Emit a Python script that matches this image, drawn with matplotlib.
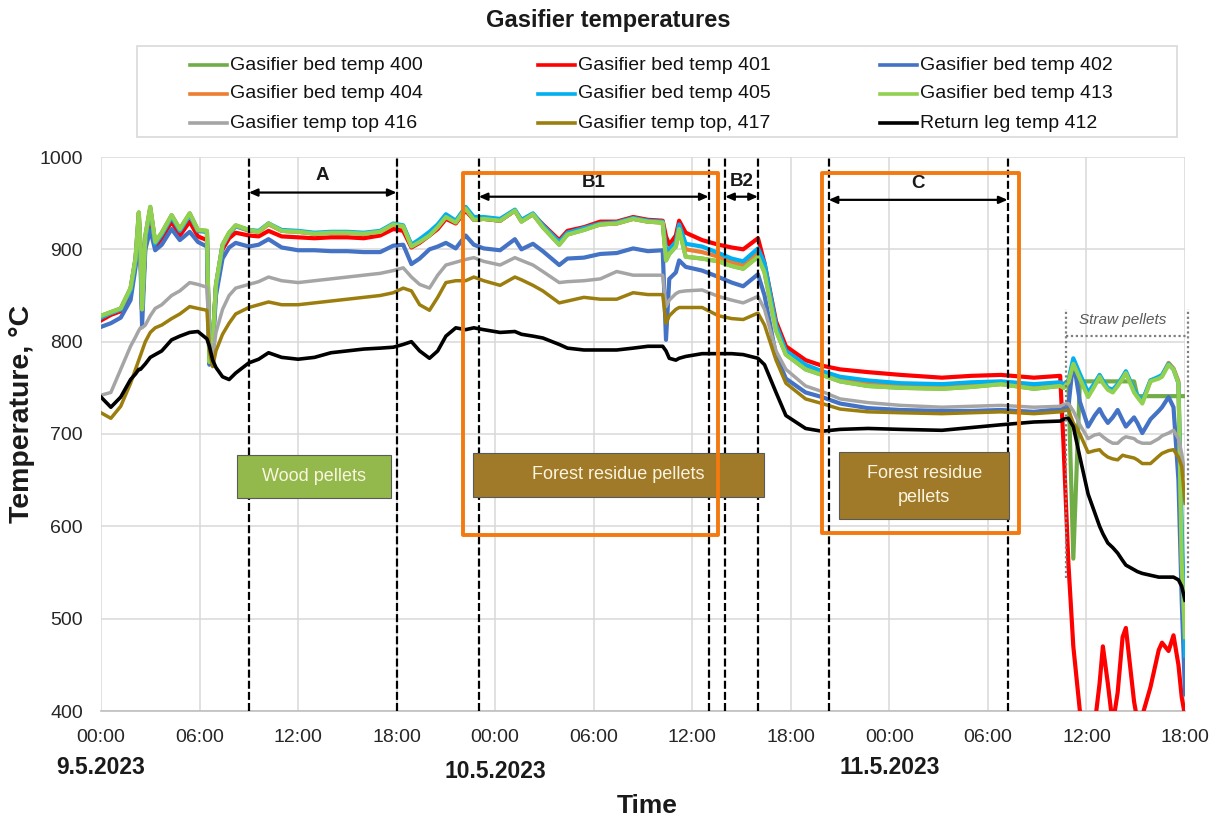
import matplotlib
matplotlib.use("Agg")
import matplotlib.pyplot as plt
from matplotlib.patches import Rectangle
from matplotlib.lines import Line2D
from matplotlib.transforms import blended_transform_factory

plt.rcParams['font.family'] = ['Liberation Sans', 'DejaVu Sans']

# ---------------- data (hours since 9.5.2023 00:00) ----------------
hours = [0, 0.6, 1.2, 1.8, 2.1, 2.3, 2.4, 2.5, 2.7, 3.0,
         3.3, 3.7, 4.3, 4.8, 5.4, 5.9, 6.45, 6.6, 6.8, 7.0,
         7.4, 7.8, 8.2, 9.0, 9.6, 10.2, 11.0, 12.0, 13.0, 14.0,
         15.0, 16.0, 17.0, 17.8, 18.4, 18.9, 19.4, 20.0, 20.5, 21.0,
         21.6, 22.2, 22.7, 23.3, 24.3, 25.2, 25.6, 26.3, 26.9, 27.9,
         28.4, 29.4, 30.4, 31.4, 32.4, 33.3, 34.2, 34.4, 34.6, 35.0,
         35.2, 35.6, 36.6, 37.6, 38.4, 39.1, 40.0, 40.4, 41.1, 41.7,
         42.9, 43.9, 45.0, 46.7, 48.7, 51.2, 53.0, 54.8, 56.8, 58.4,
         58.6, 58.9, 59.2, 59.6, 60.1, 60.5, 60.8, 61.0, 61.3, 61.6,
         61.9, 62.2, 62.4, 62.9, 63.1, 63.4, 63.9, 64.4, 64.6, 65.0,
         65.3, 65.6, 65.8, 66.0]

bed_400 = [828, 832, 836, 858, 890, 940, 905, 835, 915, 946,
           908, 918, 937, 922, 939, 921, 920, 778, 800, 862,
           905, 918, 926, 921, 919, 928, 920, 919, 917, 918,
           918, 917, 919, 927, 925, 903, 908, 915, 924, 935,
           929, 944, 932, 933, 931, 942, 930, 938, 924, 905,
           916, 921, 927, 928, 933, 930, 929, 888, 895, 903,
           922, 892, 890, 887, 882, 879, 892, 875, 812, 786,
           770, 764, 757, 752, 750, 749, 751, 754, 749, 752,
           750, 756, 565, 757, 757, 757, 757, 757, 757, 757,
           757, 757, 757, 757, 741, 741, 741, 741, 741, 741,
           741, 741, 741, 741]

bed_401 = [823, 829, 833, 853, 884, 928, 900, 833, 905, 935,
           903, 912, 930, 915, 930, 914, 910, 778, 798, 858,
           900, 912, 918, 915, 914, 920, 914, 913, 912, 913,
           913, 912, 915, 922, 920, 902, 907, 915, 922, 933,
           928, 942, 932, 933, 931, 942, 931, 938, 927, 910,
           920, 924, 930, 930, 935, 932, 931, 914, 905, 915,
           931, 918, 910, 905, 902, 900, 912, 885, 822, 795,
           780, 774, 770, 767, 764, 761, 763, 764, 761, 763,
           690, 560, 470, 400, 380, 385, 430, 470, 430, 385,
           420, 480, 490, 410, 390, 395, 426, 466, 474, 465,
           482, 450, 415, 395]

bed_402 = [816, 820, 826, 845, 880, 920, 890, 817, 900, 921,
           899, 905, 922, 910, 919, 908, 903, 775, 790, 850,
           890, 902, 907, 903, 905, 911, 902, 899, 899, 898,
           898, 897, 897, 904, 905, 884, 890, 900, 903, 907,
           901, 915, 905, 901, 899, 911, 900, 906, 898, 883,
           890, 891, 895, 896, 901, 898, 899, 802, 868, 875,
           888, 881, 877, 870, 864, 860, 873, 850, 785, 760,
           745, 740, 733, 728, 726, 725, 725, 726, 724, 727,
           728, 729, 780, 735, 708, 720, 727, 720, 712, 718,
           726, 715, 708, 718, 712, 701, 716, 725, 729, 740,
           729, 650, 520, 418]

bed_404 = [827, 831, 835, 857, 889, 938, 904, 835, 913, 944,
           907, 917, 936, 921, 938, 920, 919, 778, 800, 861,
           904, 917, 925, 920, 919, 927, 920, 919, 917, 918,
           918, 917, 919, 927, 925, 904, 909, 917, 925, 936,
           930, 945, 933, 934, 932, 942, 931, 938, 925, 906,
           917, 922, 927, 928, 933, 930, 929, 895, 898, 905,
           925, 900, 897, 892, 886, 883, 897, 880, 815, 788,
           772, 766, 760, 755, 752, 751, 753, 755, 751, 754,
           752, 757, 778, 762, 742, 754, 763, 757, 749, 747,
           753, 761, 767, 747, 741, 735, 758, 761, 763, 777,
           771, 757, 580, 470]

bed_405 = [826, 831, 835, 856, 888, 935, 903, 835, 912, 943,
           906, 916, 935, 920, 937, 920, 919, 778, 800, 860,
           904, 917, 925, 921, 920, 928, 921, 920, 918, 919,
           919, 918, 920, 928, 926, 905, 911, 919, 927, 938,
           931, 946, 935, 935, 933, 943, 932, 939, 926, 908,
           918, 923, 928, 929, 934, 931, 930, 900, 900, 908,
           927, 906, 903, 896, 890, 887, 901, 885, 818, 790,
           775, 768, 762, 758, 755, 754, 756, 757, 754, 756,
           754, 758, 782, 765, 745, 755, 764, 758, 750, 748,
           754, 762, 768, 748, 742, 736, 758, 762, 764, 776,
           770, 755, 600, 460]

bed_413 = [828, 832, 836, 858, 890, 940, 905, 835, 915, 946,
           908, 918, 937, 922, 939, 921, 920, 778, 800, 862,
           905, 918, 926, 921, 919, 928, 920, 919, 917, 918,
           918, 917, 919, 927, 925, 903, 908, 915, 924, 935,
           929, 944, 932, 933, 931, 942, 930, 938, 924, 905,
           916, 921, 927, 928, 933, 930, 929, 888, 895, 903,
           922, 892, 890, 887, 882, 879, 892, 875, 812, 786,
           770, 764, 757, 752, 750, 749, 751, 754, 749, 752,
           750, 756, 776, 760, 740, 752, 762, 755, 748, 745,
           752, 760, 766, 745, 740, 733, 757, 760, 762, 775,
           770, 755, 560, 480]

top_416 = [742, 745, 770, 795, 805, 812, 815, 815, 818, 828,
           836, 840, 850, 855, 864, 862, 859, 800, 783, 810,
           835, 850, 858, 862, 865, 870, 866, 864, 866, 868,
           870, 872, 874, 877, 880, 870, 862, 858, 872, 883,
           886, 889, 891, 887, 883, 891, 888, 883, 876, 864,
           865, 866, 868, 876, 872, 872, 872, 838, 845, 852,
           854, 855, 856, 849, 845, 842, 849, 835, 790, 770,
           752, 746, 738, 734, 731, 729, 730, 731, 729, 730,
           732, 733, 725, 710, 695, 699, 700, 697, 693, 690,
           690, 695, 697, 695, 692, 690, 690, 695, 698, 701,
           704, 695, 679, 655]

top_417 = [723, 717, 730, 755, 770, 780, 785, 790, 800, 810,
           815, 818, 825, 830, 838, 836, 834, 790, 773, 790,
           808, 820, 830, 837, 840, 843, 840, 840, 842, 844,
           846, 848, 850, 853, 858, 855, 840, 834, 848, 864,
           866, 866, 870, 866, 861, 870, 867, 861, 855, 842,
           844, 848, 846, 846, 853, 851, 851, 820, 828, 835,
           837, 837, 837, 828, 825, 824, 831, 818, 780, 755,
           738, 733, 727, 724, 723, 722, 723, 724, 722, 724,
           725, 726, 712, 700, 680, 682, 683, 679, 675, 673,
           672, 677, 676, 674, 672, 668, 668, 676, 679, 682,
           683, 675, 665, 625]

return_412 = [740, 729, 740, 759, 765, 770, 770, 772, 776, 783,
              786, 790, 802, 806, 810, 811, 803, 795, 780, 772,
              762, 759, 766, 777, 781, 788, 783, 781, 783, 788,
              790, 792, 793, 794, 797, 800, 790, 782, 790, 806,
              815, 813, 815, 813, 810, 811, 808, 806, 804, 797,
              793, 791, 791, 791, 793, 795, 795, 790, 782, 780,
              782, 784, 787, 787, 787, 786, 782, 775, 745, 720,
              706, 703, 705, 706, 705, 704, 707, 710, 713, 714,
              716, 717, 708, 675, 635, 615, 600, 592, 582, 577,
              571, 563, 558, 553, 551, 549, 547, 545, 545, 545,
              545, 542, 535, 520]

series_names = ["Gasifier bed temp 400", "Gasifier bed temp 401", "Gasifier bed temp 402",
                "Gasifier bed temp 404", "Gasifier bed temp 405", "Gasifier bed temp 413",
                "Gasifier temp top 416", "Gasifier temp top, 417", "Return leg temp 412"]
series_values = [bed_400, bed_401, bed_402, bed_404, bed_405, bed_413, top_416, top_417, return_412]
series_colors = ["#70AD47", "#FF0000", "#4472C4", "#ED7D31", "#00B0F0", "#92D050",
                 "#A5A5A5", "#9C7E0E", "#000000"]

x_tick_hours = [0, 6, 12, 18, 24, 30, 36, 42, 48, 54, 60, 66]
x_tick_labels = ["00:00", "06:00", "12:00", "18:00", "00:00", "06:00",
                 "12:00", "18:00", "00:00", "06:00", "12:00", "18:00"]
date_labels = ["9.5.2023", "10.5.2023", "11.5.2023"]
date_hours = [0, 24, 48]

period_names = ["A", "B1", "B2", "C"]
period_start = [9, 23, 38, 44.3]
period_end = [18, 37, 40, 55.2]

# ---------------- figure ----------------
W, H = 1214, 819
fig = plt.figure(figsize=(W / 100, H / 100), dpi=100)
L, R, T, B = 101, 1185, 157, 711
ax = fig.add_axes([L / W, 1 - B / H, (R - L) / W, (B - T) / H])

widths = [3.0, 3.0, 3.0, 3.0, 3.0, 3.0, 2.5, 2.5, 2.6]
for name, vals, col, lw in zip(series_names, series_values, series_colors, widths):
    ax.plot(hours, vals, color=col, lw=lw, label=name, solid_joinstyle='round', zorder=3)

ax.set_xlim(0, 66)
ax.set_ylim(400, 1000)
ax.set_xticks(x_tick_hours)
ax.set_xticklabels(x_tick_labels)
ax.set_yticks(range(400, 1001, 100))
ax.grid(True, color="#D9D9D9", lw=1.1)
ax.set_axisbelow(True)
for s in ["top", "right", "left"]:
    ax.spines[s].set_visible(False)
ax.spines["bottom"].set_color("#BFBFBF")
ax.spines["bottom"].set_linewidth(1.2)
ax.tick_params(length=0, labelsize=14, pad=13, labelcolor="#262626")

# period dashed lines
for h in sorted(set(period_start + period_end)):
    ax.axvline(h, color="black", lw=1.6, ls=(0, (3.6, 1.4)), zorder=4)

# arrows and labels
arrow_y = [961.5, 957, 957, 953.6]
label_y = [980, 972.5, 973, 971]
for name, s, e, ay, ly in zip(period_names, period_start, period_end, arrow_y, label_y):
    ax.annotate("", xy=(e, ay), xytext=(s, ay),
                arrowprops=dict(arrowstyle="<|-|>,head_length=0.5,head_width=0.22",
                                color="black", lw=1.6, shrinkA=0, shrinkB=0), zorder=6)
    ax.text((s + e) / 2, ly, name, ha="center", va="center", fontsize=13.5,
            fontweight="bold", color="#1a1a1a", zorder=6)

# fuel label boxes
boxes = [
    (8.28, 630.8, 17.66, 677.4, "#93B84B", "Wood pellets"),
    (22.66, 631.9, 40.38, 679.5, "#A07A28", "Forest residue pellets"),
    (44.95, 608.0, 55.30, 680.6, "#A07A28", "Forest residue\npellets"),
]
for x0, y0, x1, y1, fc, txt in boxes:
    ax.add_patch(Rectangle((x0, y0), x1 - x0, y1 - y0, facecolor=fc,
                           edgecolor="#5a5a5a", lw=0.8, zorder=7))
    ax.text((x0 + x1) / 2, (y0 + y1) / 2, txt, ha="center", va="center",
            fontsize=13, color="#FBF5E0", zorder=8, linespacing=1.5)

# orange highlight boxes
for x0, y0, x1, y1 in [(22.05, 590.7, 37.58, 982.9), (43.91, 592.8, 55.91, 982.9)]:
    ax.add_patch(Rectangle((x0, y0), x1 - x0, y1 - y0, facecolor="none",
                           edgecolor="#F27A10", lw=2.8, zorder=9,
                           joinstyle="round"))

# straw pellets dotted box
sx0, sx1, sy_top, sy_mid, sy_bot = 58.77, 66.2, 835.5, 806.3, 544
dot = dict(color="#7F7F7F", lw=1.6, ls=(0, (1, 1.2)), clip_on=False, zorder=9)
ax.plot([sx0, sx0], [sy_bot, sy_top], **dot)
ax.plot([sx1, sx1], [sy_bot, sy_top], **dot)
ax.plot([sx0, sx1], [sy_mid, sy_mid], **dot)
ax.text((sx0 + sx1) / 2 - 0.3, 823.5, "Straw pellets", ha="center", va="center",
        fontsize=11, style="italic", color="#595959", zorder=9)

# date labels under time ticks
tr = blended_transform_factory(ax.transData, fig.transFigure)
for lab, h, py in zip(date_labels, date_hours, [768, 771, 768]):
    ax.text(h, 1 - py / H, lab, transform=tr, ha="center", va="center",
            fontsize=16.5, fontweight="bold", color="#1a1a1a")

# titles
fig.text(608 / W, 1 - 20 / H, "Gasifier temperatures", ha="center", va="center",
         fontsize=17, fontweight="bold", color="#1a1a1a")
fig.text(22 / W, 1 - 414 / H, "Temperature, °C", rotation=90, ha="center", va="center",
         fontsize=20.5, fontweight="bold", color="#1a1a1a")
fig.text(647 / W, 1 - 806 / H, "Time", ha="center", va="center",
         fontsize=19, fontweight="bold", color="#1a1a1a")

# legend (3 x 3 grid, row-wise like the reference)
fig.add_artist(Rectangle((137 / W, 1 - 137 / H), (1177 - 137) / W, (137 - 46) / H,
                         transform=fig.transFigure, facecolor="white",
                         edgecolor="#D9D9D9", lw=1.2))
col_x = [190, 538, 880]
row_y = [65, 94, 123]
for i, (name, col) in enumerate(zip(series_names, series_colors)):
    r, c = divmod(i, 3)
    x0 = col_x[c]
    y = 1 - row_y[r] / H
    fig.add_artist(Line2D([x0 / W, (x0 + 37) / W], [y, y], transform=fig.transFigure,
                          color=col, lw=2.6))
    fig.text((x0 + 40) / W, y, name, ha="left", va="center", fontsize=14, color="#111111")

fig.savefig("out.png", dpi=100)
